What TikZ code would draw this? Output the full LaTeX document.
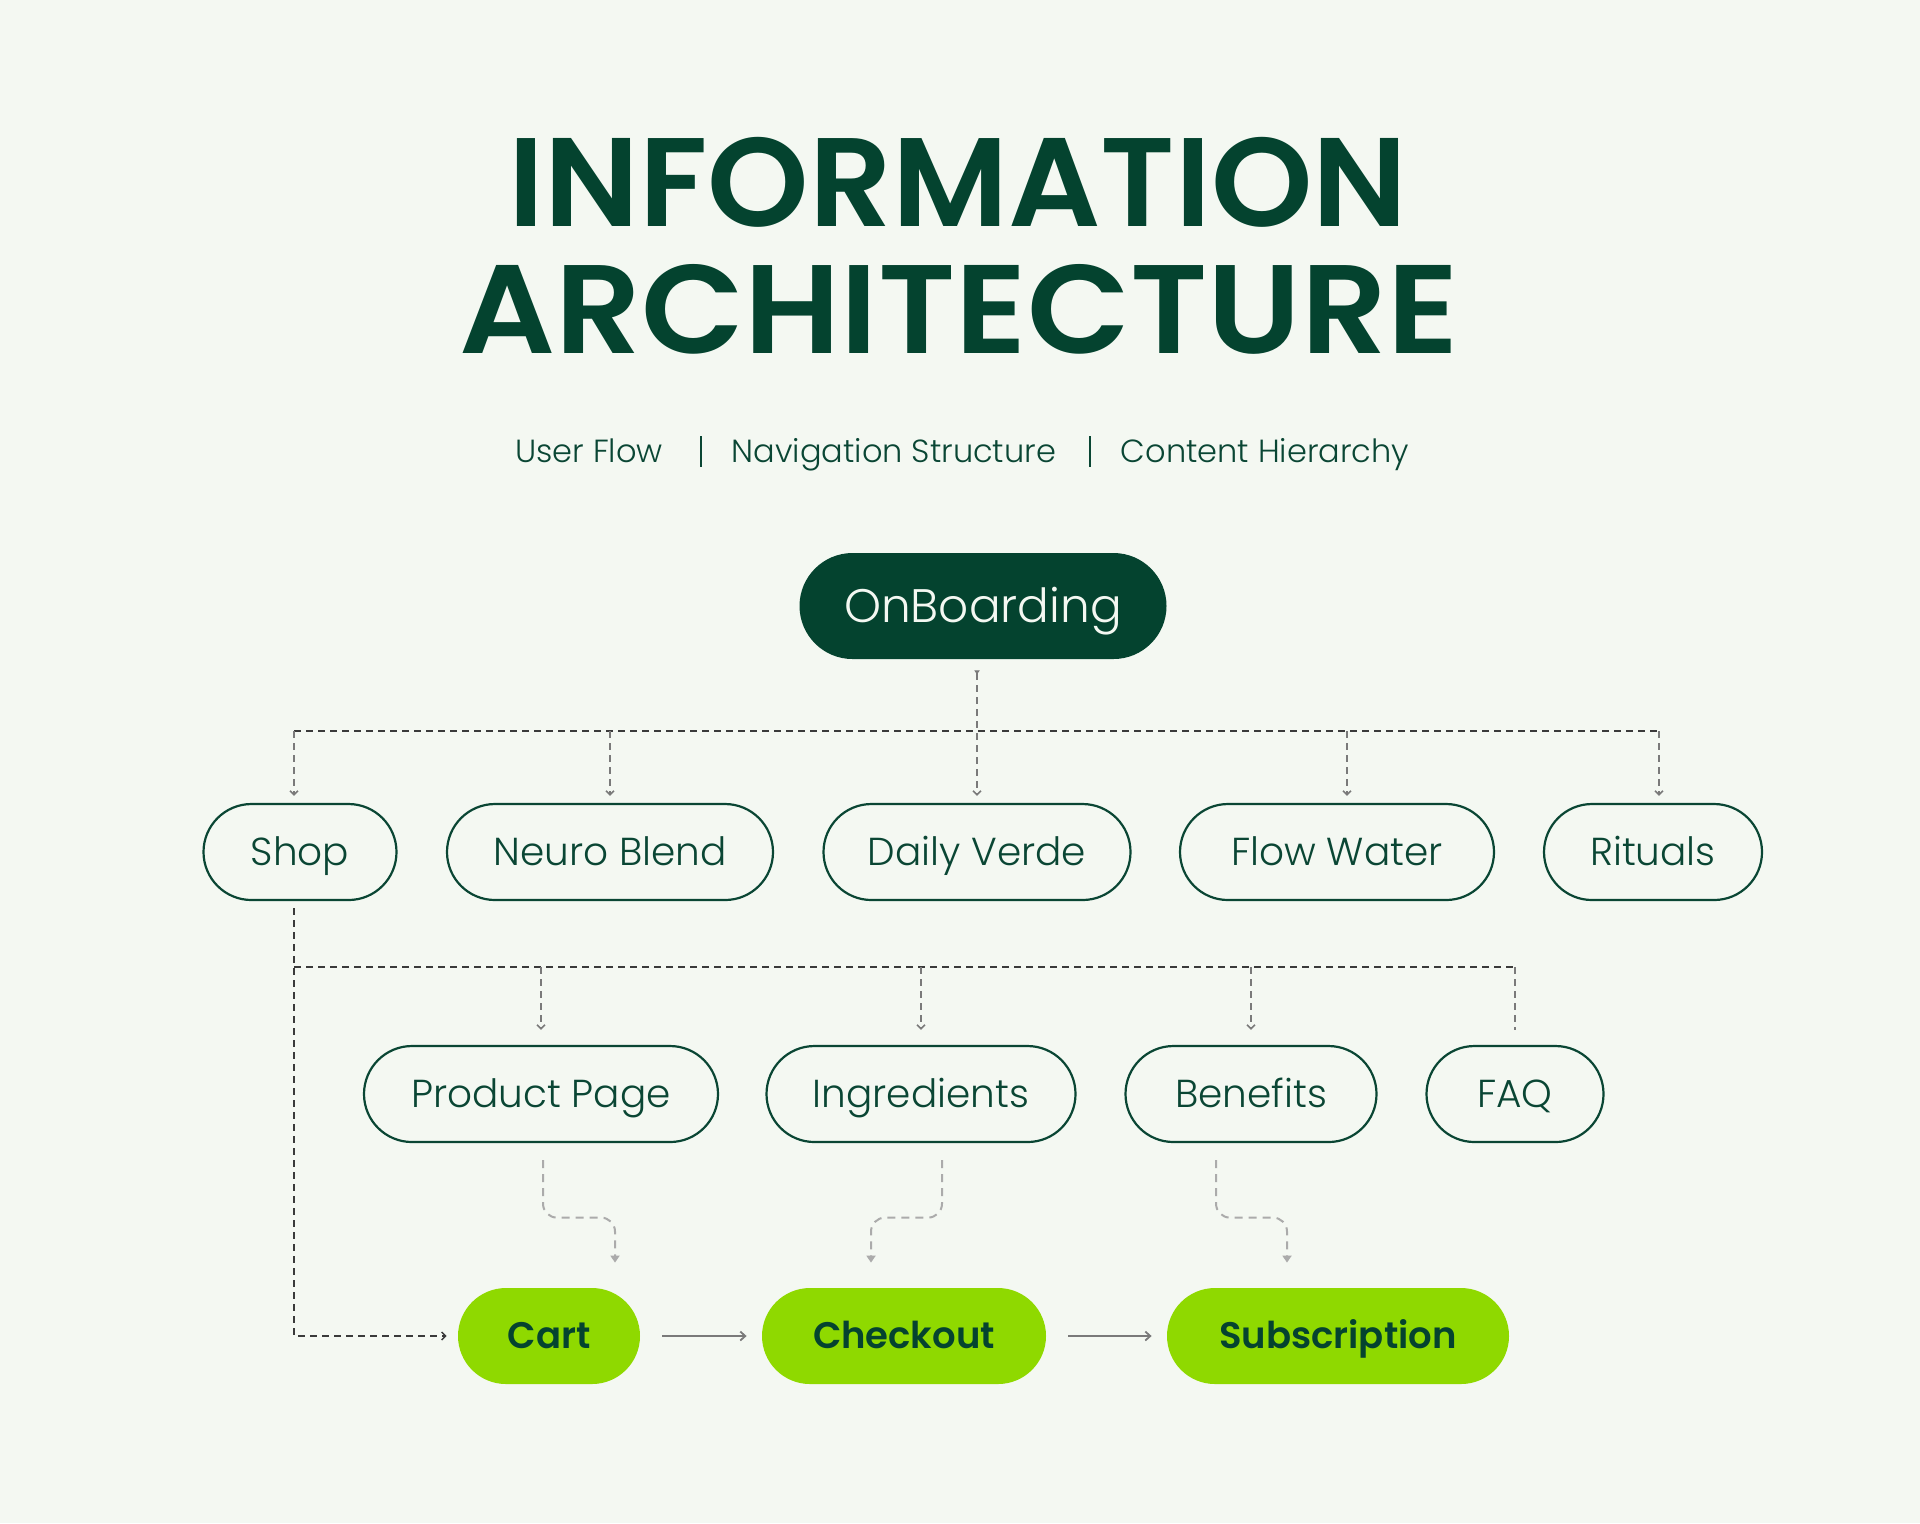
\documentclass[tikz,border=0pt]{standalone}
\usepackage{fontspec, xcolor}
\usetikzlibrary{arrows.meta, calc}
\setmainfont{Poppins}
\IfFontExistsTF{Poppins Light}{\newfontfamily\iathin{Poppins Light}}{\newfontfamily\iathin{Poppins}}
\IfFontExistsTF{Poppins SemiBold}{\newfontfamily\iabold{Poppins SemiBold}}{\newcommand\iabold{\bfseries}}
\definecolor{paper}{HTML}{F4F8F2}
\definecolor{deep}{HTML}{04432F}
\definecolor{ink}{HTML}{0A4634}
\definecolor{lime}{HTML}{8FD900}
\definecolor{busgrey}{HTML}{3A3A3A}
\definecolor{dropgrey}{HTML}{7A7A7A}
\definecolor{curvegrey}{HTML}{ABABAB}

\begin{document}
\begin{tikzpicture}[x=0.5pt, y=-0.5pt,
  pill/.style={draw=ink, line width=1.1pt, rounded corners=24pt, minimum height=48pt, inner sep=0pt, text=ink, font=\iathin\fontsize{19.5pt}{20pt}\selectfont, text height=13.6pt, text depth=0pt},
  goal/.style={fill=lime, rounded corners=24pt, minimum height=48pt, inner sep=0pt, text=deep, font=\iabold\fontsize{18.5pt}{20pt}\selectfont, text height=12.9pt, text depth=0pt},
  bus/.style={draw=busgrey, line width=0.7pt, dash pattern=on 3.5pt off 2.5pt},
  drop/.style={draw=dropgrey, line width=0.8pt, dash pattern=on 3.5pt off 2.5pt, -{Straight Barb[length=2pt,width=4pt]}},
  curvy/.style={draw=curvegrey, line width=1pt, dash pattern=on 4pt off 3pt, rounded corners=7pt, -{Triangle[length=3.5pt,width=4.5pt]}, shorten <=8.5pt, shorten >=12.5pt},
  flow/.style={draw=dropgrey, line width=0.9pt, -{Straight Barb[length=2.5pt,width=4.5pt]}, shorten <=11pt, shorten >=7.5pt}]
% page
\fill[paper] (0, 0) rectangle (1920, 1523);
\useasboundingbox (0, 0) rectangle (1920, 1523);
% title
\node[anchor=base, text=deep, font=\iabold\fontsize{63pt}{63pt}\selectfont] (title1) at (958, 226) {\scalebox{1.025}[1]{INFORMATION}};
\node[anchor=base, text=deep, font=\iabold\fontsize{63pt}{63pt}\selectfont] (title2) at (959, 353) {\scalebox{1.065}[1]{ARCHITECTURE}};
\node[anchor=base, text=ink, font=\iathin\fontsize{16pt}{16pt}\selectfont] (sub1) at (589, 462) {User Flow};
\node[anchor=base, text=ink, font=\iathin\fontsize{16pt}{16pt}\selectfont] (sub2) at (894, 462) {Navigation Structure};
\node[anchor=base, text=ink, font=\iathin\fontsize{16pt}{16pt}\selectfont] (sub3) at (1265, 462) {Content Hierarchy};
\draw[ink, line width=0.6pt] (701, 436) -- (701, 467);
\draw[ink, line width=0.6pt] (1090, 436) -- (1090, 467);
% root
\node[fill=deep, rounded corners=26.5pt, minimum width=183.5pt, minimum height=53pt, text=paper, font=\iathin\fontsize{23.5pt}{24pt}\selectfont, text height=16.4pt, text depth=0pt] (onb) at (983, 606) {OnBoarding};
% level 1
\node[pill, minimum width=96.5pt] (shop) at (300, 852) {Shop};
\node[pill, minimum width=163pt] (neuro) at (610, 852) {Neuro Blend};
\node[pill, minimum width=153.5pt] (daily) at (977, 852) {Daily Verde};
\node[pill, minimum width=157pt] (flowwater) at (1337, 852) {Flow Water};
\node[pill, minimum width=109pt] (rituals) at (1653, 852) {Rituals};
% level 2
\node[pill, minimum width=177pt] (product) at (541, 1094) {Product Page};
\node[pill, minimum width=154.5pt] (ingred) at (921, 1094) {Ingredients};
\node[pill, minimum width=125.5pt] (benefits) at (1251, 1094) {Benefits};
\node[pill, minimum width=88.5pt] (faq) at (1515, 1094) {FAQ};
% level 3
\node[goal, minimum width=91pt] (cart) at (549, 1336) {Cart};
\node[goal, minimum width=142pt] (checkout) at (904, 1336) {Checkout};
\node[goal, minimum width=171pt] (subs) at (1338, 1336) {Subscription};
% tree lines
\coordinate (bus1) at (976, 731);
\coordinate (bus2) at (294, 967);
\draw[drop, {Triangle[reversed, length=2pt, width=2.6pt]}-{Straight Barb[length=2pt,width=4pt]}, shorten <=5.5pt, shorten >=3.5pt] (onb.south -| daily.north) -- (daily.north);
\draw[bus] (bus1 -| bus2) -- ([xshift=3pt]bus1 -| rituals.north);
\foreach \n/\dx in {shop/-3pt, neuro/0pt, flowwater/5pt, rituals/3pt}
  \draw[drop, shorten >=3.5pt] ([xshift=\dx]bus1 -| \n.north) -- ([xshift=\dx]\n.north);
\draw[bus] (bus2) -- (bus2 -| faq.north);
\foreach \n in {product, ingred, benefits}
  \draw[drop, shorten >=7.5pt] (bus2 -| \n.north) -- (\n.north);
\draw[drop, -, shorten >=7.5pt] (bus2 -| faq.north) -- (faq.north);
\draw[bus, -{Straight Barb[length=2pt,width=4pt]}, shorten <=3.5pt, shorten >=5.5pt] ([xshift=-3pt]shop.south) |- (cart.west);
% into the cart flow
\draw[curvy] ([xshift=1pt]product.south) |- ([xshift=33pt, yshift=35pt]cart.north) -- ([xshift=33pt]cart.north);
\draw[curvy] ([xshift=10.5pt]ingred.south) |- ([xshift=-16.5pt, yshift=35pt]checkout.north) -- ([xshift=-16.5pt]checkout.north);
\draw[curvy] ([xshift=-17.5pt]benefits.south) |- ([xshift=-25.5pt, yshift=35pt]subs.north) -- ([xshift=-25.5pt]subs.north);
\draw[flow] (cart.east) -- (checkout.west);
\draw[flow] (checkout.east) -- (subs.west);
\end{tikzpicture}
\end{document}
